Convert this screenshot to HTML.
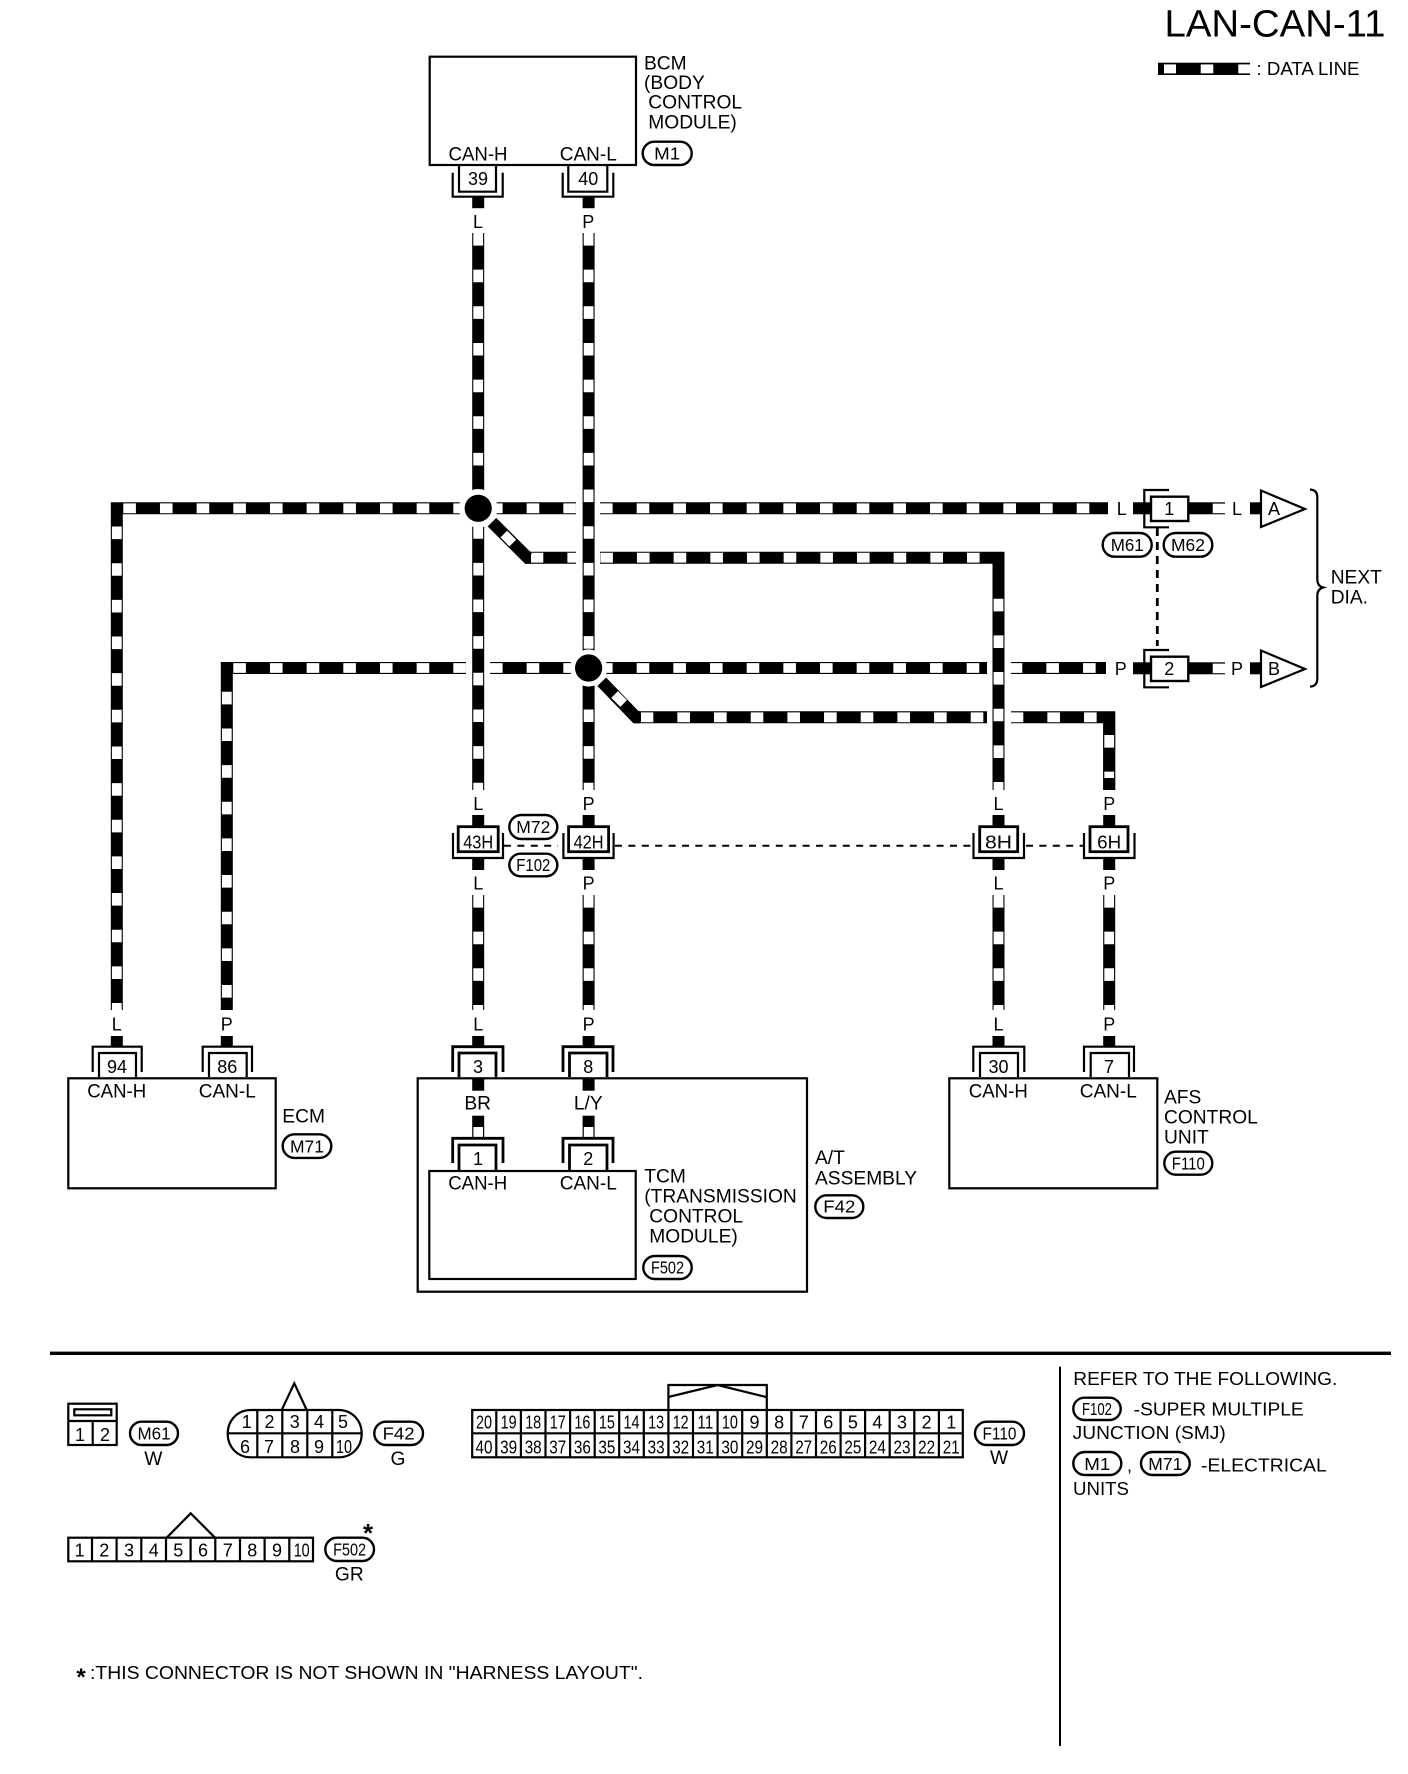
<!DOCTYPE html>
<html><head><meta charset="utf-8"><style>
html,body{margin:0;padding:0;background:#fff}
svg{display:block}
text{font-family:"Liberation Sans",sans-serif;font-size:19.2px;fill:#000}
.m{text-anchor:middle}
.n{font-size:18px;text-anchor:middle}
.s{fill:none;stroke:#000;stroke-width:2.2}
.t{fill:none;stroke:#000;stroke-width:2.8}
.b{fill:none;stroke:#000;stroke-width:12}
.d{fill:none;stroke:#fff;stroke-width:9.8;stroke-dasharray:12.6 24.05}
.e{fill:none;stroke:#fff;stroke-width:9.8;stroke-dasharray:12.6 24.07}
.p{fill:#fff;stroke:#000;stroke-width:2.4}
.q{font-size:17.5px;text-anchor:middle}
.k{fill:#000}
.g{fill:#fff}
.ds{fill:none;stroke:#000;stroke-width:2;stroke-dasharray:7 6.4}
</style></head><body>
<svg xmlns="http://www.w3.org/2000/svg" width="1408" height="1774" viewBox="0 0 1408 1774">
<rect width="1408" height="1774" fill="#fff"/>

<!-- title / legend -->
<text x="1164.5" y="36.7" style="font-size:37.7px" textLength="221" lengthAdjust="spacingAndGlyphs">LAN-CAN-11</text>
<rect x="1158" y="62.7" width="92" height="12.3" class="k"/>
<rect x="1164" y="64.4" width="12" height="9" class="g"/>
<rect x="1200.7" y="64.4" width="12.6" height="9" class="g"/>
<rect x="1238.3" y="64.4" width="13" height="9" class="g"/>
<text x="1256.5" y="75" style="font-size:18.5px" textLength="103" lengthAdjust="spacingAndGlyphs">: DATA LINE</text>

<!-- horizontal wires -->
<path class="b" d="M116.8 1010V508.3H1108"/>
<path class="e" d="M123.3 508.3H1106"/>
<path class="b" d="M226.8 1010V668H1106"/>
<path class="e" d="M233.3 668H987"/>
<path class="e" d="M1009.7 668H1106"/>
<path class="b" d="M492 522.3L527.7 557.7H998.5V790"/>
<path class="e" d="M530.7 557.7H576"/>
<path class="e" d="M600.3 557.7H987"/>
<path class="b" d="M601.8 681.8L636 717.3H1109.2V790"/>
<path class="e" d="M640.7 717.3H987"/>
<path class="e" d="M1010.7 717.3H1100"/>
<!-- crossing gaps -->
<rect x="576" y="500" width="24" height="16" class="g"/>
<rect x="576" y="549" width="24" height="17" class="g"/>
<rect x="466" y="660" width="24" height="16" class="g"/>
<rect x="987" y="660" width="24" height="16" class="g"/>
<rect x="987" y="709" width="24" height="17" class="g"/>

<!-- vertical wires -->
<path class="b" d="M478.2 233V790"/><path class="d" d="M478.2 233V790"/>
<path class="b" d="M588.6 233V790"/><path class="d" d="M588.6 233V790"/>
<path class="b" d="M998.5 552V790"/><path class="d" d="M998.5 598.75V790"/>
<path class="b" d="M1109.2 712V790"/><path class="d" d="M1109.2 735V778"/>
<path class="d" d="M116.8 526.55V1010"/>
<path class="d" d="M226.8 691.8V998"/>
<path class="b" d="M478.2 895V1010"/><path class="d" d="M478.2 895V1010"/>
<path class="b" d="M588.6 895V1010"/><path class="d" d="M588.6 895V1010"/>
<path class="b" d="M998.5 895V1010"/><path class="d" d="M998.5 895V1010"/>
<path class="b" d="M1109.2 895V1010"/><path class="d" d="M1109.2 895V1010"/>

<!-- junctions -->
<circle cx="478.2" cy="508.3" r="19.3" class="g"/><circle cx="478.2" cy="508.3" r="13.6" class="k"/>
<circle cx="588.6" cy="668" r="18.6" class="g"/><circle cx="588.6" cy="668" r="13.6" class="k"/>
<path class="b" d="M492 522.3L527.7 557.7H531"/>
<path d="M503.8 534.1L512.8 543.1" fill="none" stroke="#fff" stroke-width="9.4"/>
<path class="b" d="M601.8 681.8L636 717.3H641"/>
<path d="M614.6 694.5L623.6 703.5" fill="none" stroke="#fff" stroke-width="9.4"/>

<!-- BCM -->
<rect x="429.7" y="56.7" width="206.3" height="108.3" class="s"/>
<text x="644" y="69.3">BCM</text>
<text x="644" y="89">(BODY</text>
<text x="648.3" y="108.3">CONTROL</text>
<text x="648.3" y="128.3">MODULE)</text>
<rect x="642.7" y="141.7" width="49" height="23.3" rx="11.6" class="p"/>
<text x="667.2" y="159.5" class="q" textLength="26" lengthAdjust="spacingAndGlyphs">M1</text>
<text x="478" y="160.7" class="m" textLength="59" lengthAdjust="spacingAndGlyphs">CAN-H</text>
<text x="588.3" y="160.7" class="m" textLength="57" lengthAdjust="spacingAndGlyphs">CAN-L</text>
<path class="s" d="M459 166V191.7H496V166"/>
<path class="s" d="M452.7 172.7V196.7H502.7V172.7"/>
<path class="s" d="M568.3 166V191.7H607.3V166"/>
<path class="s" d="M562.7 172.7V196.7H613.3V172.7"/>
<text x="478" y="185" class="n">39</text>
<text x="588.3" y="185" class="n">40</text>
<rect x="472.2" y="196.7" width="12" height="11.5" class="k"/>
<rect x="582.6" y="196.7" width="12" height="11.5" class="k"/>
<text x="478" y="228" class="n">L</text>
<text x="588.3" y="228" class="n">P</text>

<!-- Mid connectors -->
<rect x="472.2" y="815" width="12" height="12" class="k"/><rect x="472.2" y="858" width="12" height="12" class="k"/>
<rect x="582.6" y="815" width="12" height="12" class="k"/><rect x="582.6" y="858" width="12" height="12" class="k"/>
<rect x="992.5" y="815" width="12" height="12" class="k"/><rect x="992.5" y="858" width="12" height="12" class="k"/>
<rect x="1103.2" y="815" width="12" height="12" class="k"/><rect x="1103.2" y="858" width="12" height="12" class="k"/>
<rect x="458.2" y="826.7" width="40" height="25" fill="#fff" stroke="#000" stroke-width="2.8"/>
<path class="s" d="M453 833V858H503V833"/>
<rect x="568.6" y="826.7" width="40" height="25" fill="#fff" stroke="#000" stroke-width="2.8"/>
<path class="s" d="M563.4 833V858H613.6V833"/>
<rect x="979.7" y="826.7" width="38" height="25" fill="#fff" stroke="#000" stroke-width="2.8"/>
<path class="s" d="M973.5 833V858H1024V833"/>
<rect x="1090" y="826.7" width="38" height="25" fill="#fff" stroke="#000" stroke-width="2.8"/>
<path class="s" d="M1084 833V858H1134.5V833"/>
<text x="478.2" y="848.3" class="n" textLength="30" lengthAdjust="spacingAndGlyphs">43H</text>
<text x="588.6" y="848.3" class="n" textLength="30" lengthAdjust="spacingAndGlyphs">42H</text>
<text x="998.5" y="848.3" class="n" textLength="27" lengthAdjust="spacingAndGlyphs">8H</text>
<text x="1109.2" y="848.3" class="n" textLength="24" lengthAdjust="spacingAndGlyphs">6H</text>
<path class="ds" d="M504 845.7H558"/>
<path class="ds" d="M615 845.7H973"/>
<path class="ds" d="M1026 845.7H1083"/>
<rect x="509.3" y="815" width="48" height="24" rx="12" class="p"/>
<text x="533.3" y="833" class="q" textLength="34" lengthAdjust="spacingAndGlyphs">M72</text>
<rect x="509.3" y="853.7" width="48" height="22.6" rx="11.3" class="p"/>
<text x="533.3" y="871" class="q" textLength="34" lengthAdjust="spacingAndGlyphs">F102</text>
<text x="478.2" y="810" class="n">L</text><text x="478.2" y="889.3" class="n">L</text>
<text x="588.6" y="810" class="n">P</text><text x="588.6" y="889.3" class="n">P</text>
<text x="998.5" y="810" class="n">L</text><text x="998.5" y="889.3" class="n">L</text>
<text x="1109.2" y="810" class="n">P</text><text x="1109.2" y="889.3" class="n">P</text>

<!-- bottom wire labels -->
<text x="116.8" y="1030.7" class="n">L</text><text x="226.8" y="1030.7" class="n">P</text>
<text x="478.2" y="1030.7" class="n">L</text><text x="588.6" y="1030.7" class="n">P</text>
<text x="998.5" y="1030.7" class="n">L</text><text x="1109.2" y="1030.7" class="n">P</text>
<rect x="110.8" y="1036" width="12" height="11" class="k"/><rect x="220.8" y="1036" width="12" height="11" class="k"/>
<rect x="472.2" y="1036" width="12" height="11" class="k"/><rect x="582.6" y="1036" width="12" height="11" class="k"/>
<rect x="992.5" y="1036" width="12" height="11" class="k"/><rect x="1103.2" y="1036" width="12" height="11" class="k"/>

<!-- ECM -->
<rect x="68.3" y="1078.3" width="207.4" height="110" class="s"/>
<path class="s" d="M92.7 1072V1046.7H141.7V1072"/>
<path class="s" d="M99 1077V1053H136V1077"/>
<path class="s" d="M202.7 1072V1046.7H252V1072"/>
<path class="s" d="M209 1077V1053H246.7V1077"/>
<text x="117" y="1073" class="n">94</text>
<text x="227.3" y="1073" class="n">86</text>
<text x="116.7" y="1097.3" class="m" textLength="59" lengthAdjust="spacingAndGlyphs">CAN-H</text>
<text x="227.3" y="1097.3" class="m" textLength="57" lengthAdjust="spacingAndGlyphs">CAN-L</text>
<text x="282.3" y="1122.3">ECM</text>
<rect x="282.7" y="1134.3" width="48.6" height="23.6" rx="11.8" class="p"/>
<text x="307" y="1152.5" class="q" textLength="34" lengthAdjust="spacingAndGlyphs">M71</text>

<!-- A/T assembly -->
<rect x="417.7" y="1078.3" width="389.3" height="213.4" class="s"/>
<path class="t" d="M452.7 1072V1046.7H503V1072"/>
<path class="t" d="M459 1077V1053H496V1077"/>
<path class="t" d="M563 1072V1046.7H613V1072"/>
<path class="t" d="M569.5 1077V1053H607V1077"/>
<text x="478" y="1073" class="n">3</text>
<text x="588.3" y="1073" class="n">8</text>
<rect x="472.2" y="1078" width="12" height="12.7" class="k"/><rect x="582.6" y="1078" width="12" height="12.7" class="k"/>
<text x="477.7" y="1109.3" class="m">BR</text>
<text x="588.3" y="1109.3" class="m">L/Y</text>
<rect x="472.2" y="1115.7" width="12" height="22.6" class="k"/><rect x="582.6" y="1115.7" width="12" height="22.6" class="k"/>
<rect x="473.4" y="1127" width="9.6" height="11" class="g"/><rect x="583.8" y="1127" width="9.6" height="11" class="g"/>
<path class="t" d="M452.7 1163V1138.3H503V1163"/>
<path class="t" d="M459 1170V1145H496V1170"/>
<path class="t" d="M563 1163V1138.3H613V1163"/>
<path class="t" d="M569.5 1170V1145H607V1170"/>
<text x="478" y="1165" class="n">1</text>
<text x="588.3" y="1165" class="n">2</text>
<rect x="429.3" y="1171" width="206.4" height="108" class="s"/>
<text x="477.7" y="1189.3" class="m" textLength="59" lengthAdjust="spacingAndGlyphs">CAN-H</text>
<text x="588.3" y="1189.3" class="m" textLength="57" lengthAdjust="spacingAndGlyphs">CAN-L</text>
<text x="644.3" y="1182.7">TCM</text>
<text x="644.3" y="1202.7">(TRANSMISSION</text>
<text x="649.3" y="1222.3">CONTROL</text>
<text x="649.3" y="1242.3">MODULE)</text>
<rect x="643.3" y="1256" width="48.4" height="23" rx="11.5" class="p"/>
<text x="667.5" y="1273.5" class="q" textLength="33" lengthAdjust="spacingAndGlyphs">F502</text>
<text x="815" y="1164">A/T</text>
<text x="815" y="1184.3">ASSEMBLY</text>
<rect x="815.3" y="1195.3" width="48" height="22.7" rx="11.3" class="p"/>
<text x="839.3" y="1212.7" class="q" textLength="32" lengthAdjust="spacingAndGlyphs">F42</text>

<!-- AFS -->
<rect x="949.3" y="1078.3" width="208" height="110" class="s"/>
<path class="s" d="M973.3 1072V1046.7H1024.3V1072"/>
<path class="s" d="M980 1077V1053H1018V1077"/>
<path class="s" d="M1084 1072V1046.7H1134V1072"/>
<path class="s" d="M1090.7 1077V1053H1129V1077"/>
<text x="998.5" y="1073" class="n">30</text>
<text x="1109" y="1073" class="n">7</text>
<text x="998.3" y="1097.3" class="m" textLength="59" lengthAdjust="spacingAndGlyphs">CAN-H</text>
<text x="1108.3" y="1097.3" class="m" textLength="57" lengthAdjust="spacingAndGlyphs">CAN-L</text>
<text x="1164" y="1103.3">AFS</text>
<text x="1164" y="1123.3">CONTROL</text>
<text x="1164" y="1143.3">UNIT</text>
<rect x="1164.3" y="1151.7" width="48" height="23" rx="11.5" class="p"/>
<text x="1188.3" y="1169.3" class="q" textLength="33" lengthAdjust="spacingAndGlyphs">F110</text>

<!-- right side connectors -->
<text x="1121.7" y="515" class="n">L</text>
<text x="1237" y="515" class="n">L</text>
<text x="1120.7" y="675" class="n">P</text>
<text x="1237" y="675" class="n">P</text>
<path class="ds" style="stroke-width:2.8;stroke-dasharray:8 6" d="M1157.3 528V646"/>
<g>
<rect x="1133" y="502.3" width="18" height="12" class="k"/>
<rect x="1188" y="502.3" width="37" height="12" class="k"/>
<rect x="1212.7" y="503.6" width="13" height="9.6" class="g"/>
<rect x="1250" y="502.3" width="12" height="12" class="k"/>
<rect x="1151" y="496.7" width="37.3" height="24.3" fill="#fff" stroke="#000" stroke-width="2.4"/>
<path class="s" d="M1169 490H1144.3V527.3H1169"/>
<path d="M1261 490.5V527L1305 509Z" fill="#fff" stroke="#000" stroke-width="2.2"/>
</g>
<g transform="translate(0,160)">
<rect x="1133" y="502.3" width="18" height="12" class="k"/>
<rect x="1188" y="502.3" width="37" height="12" class="k"/>
<rect x="1212.7" y="503.6" width="13" height="9.6" class="g"/>
<rect x="1250" y="502.3" width="12" height="12" class="k"/>
<rect x="1151" y="496.7" width="37.3" height="24.3" fill="#fff" stroke="#000" stroke-width="2.4"/>
<path class="s" d="M1169 490H1144.3V527.3H1169"/>
<path d="M1261 490.5V527L1305 509Z" fill="#fff" stroke="#000" stroke-width="2.2"/>
</g>
<text x="1169.3" y="515" class="n">1</text>
<text x="1169.3" y="675" class="n">2</text>
<text x="1274" y="515" class="n">A</text>
<text x="1274" y="675" class="n">B</text>
<rect x="1102.7" y="533" width="49" height="23.7" rx="11.8" class="p"/>
<text x="1127.2" y="551" class="q" textLength="33" lengthAdjust="spacingAndGlyphs">M61</text>
<rect x="1163.7" y="533" width="48.6" height="23.7" rx="11.8" class="p"/>
<text x="1188" y="551" class="q" textLength="34" lengthAdjust="spacingAndGlyphs">M62</text>
<path class="s" d="M1310 489.5Q1317.3 490 1317.3 497V579Q1317.3 586 1323 587.5Q1317.3 589 1317.3 596V679Q1317.3 686 1310 686.7"/>
<text x="1330.7" y="583.3">NEXT</text>
<text x="1330.7" y="603.3">DIA.</text>

<!-- lower separators -->
<rect x="50" y="1351.6" width="1341" height="3.4" class="k"/>
<rect x="1059" y="1366.7" width="2" height="379.3" class="k"/>

<!-- M61 connector -->
<rect x="68.3" y="1403.7" width="48.4" height="41.3" class="s"/>
<rect x="74.3" y="1409.3" width="37" height="6" class="s"/>
<path class="s" d="M68.3 1421H116.7M92.7 1421V1445"/>
<text x="80" y="1441" class="n">1</text>
<text x="105" y="1441" class="n">2</text>
<rect x="130" y="1421.7" width="48" height="23.3" rx="11.6" class="p"/>
<text x="154" y="1439.5" class="q" textLength="33" lengthAdjust="spacingAndGlyphs">M61</text>
<text x="153.3" y="1465" class="m">W</text>

<!-- F42 connector -->
<path class="s" d="M251 1410H338.5C352 1410 361.7 1420.5 361.7 1433.6C361.7 1447 352 1457.3 338.5 1457.3H251C237.4 1457.3 227.7 1447 227.7 1433.6C227.7 1420.5 237.4 1410 251 1410Z"/>
<path class="s" d="M227.7 1433.3H361.7M257.3 1410V1457.3M282.3 1410V1457.3M307.3 1410V1457.3M332.3 1410V1457.3"/>
<path class="s" d="M281.7 1410L294.3 1383.3L306.7 1410"/>
<text x="246.7" y="1428" class="n">1</text><text x="269.5" y="1428" class="n">2</text><text x="294.7" y="1428" class="n">3</text><text x="319" y="1428" class="n">4</text><text x="343" y="1428" class="n">5</text>
<text x="245" y="1453" class="n">6</text><text x="269" y="1453" class="n">7</text><text x="295" y="1453" class="n">8</text><text x="319" y="1453" class="n">9</text><text x="344" y="1453" class="n" textLength="16" lengthAdjust="spacingAndGlyphs">10</text>
<rect x="374.3" y="1421.7" width="48.7" height="23.3" rx="11.6" class="p"/>
<text x="398.6" y="1439.5" class="q" textLength="32" lengthAdjust="spacingAndGlyphs">F42</text>
<text x="398" y="1465" class="m">G</text>

<!-- F110 connector -->
<rect x="472.2" y="1410" width="490.6" height="47.3" class="s"/>
<path class="s" d="M472.2 1433.3H962.8"/>
<path class="s" d="M496.3 1410V1457.3M520.9 1410V1457.3M545.5 1410V1457.3M570.1 1410V1457.3M594.7 1410V1457.3M619.2 1410V1457.3M643.8 1410V1457.3M668.4 1410V1457.3M693 1410V1457.3M717.6 1410V1457.3M742.2 1410V1457.3M766.8 1410V1457.3M791.4 1410V1457.3M816 1410V1457.3M840.6 1410V1457.3M865.1 1410V1457.3M889.7 1410V1457.3M914.3 1410V1457.3M938.9 1410V1457.3"/>
<path class="s" d="M668.4 1410V1385H766.8V1410"/>
<path class="s" d="M668.4 1397L717.6 1385L766 1397"/>
<g>
<text x="484" y="1428.3" class="n" textLength="16" lengthAdjust="spacingAndGlyphs">20</text>
<text x="508.6" y="1428.3" class="n" textLength="16" lengthAdjust="spacingAndGlyphs">19</text>
<text x="533.2" y="1428.3" class="n" textLength="16" lengthAdjust="spacingAndGlyphs">18</text>
<text x="557.8" y="1428.3" class="n" textLength="16" lengthAdjust="spacingAndGlyphs">17</text>
<text x="582.4" y="1428.3" class="n" textLength="16" lengthAdjust="spacingAndGlyphs">16</text>
<text x="606.9" y="1428.3" class="n" textLength="16" lengthAdjust="spacingAndGlyphs">15</text>
<text x="631.5" y="1428.3" class="n" textLength="16" lengthAdjust="spacingAndGlyphs">14</text>
<text x="656.1" y="1428.3" class="n" textLength="16" lengthAdjust="spacingAndGlyphs">13</text>
<text x="680.7" y="1428.3" class="n" textLength="16" lengthAdjust="spacingAndGlyphs">12</text>
<text x="705.3" y="1428.3" class="n" textLength="16" lengthAdjust="spacingAndGlyphs">11</text>
<text x="729.9" y="1428.3" class="n" textLength="16" lengthAdjust="spacingAndGlyphs">10</text>
<text x="754.5" y="1428.3" class="n">9</text>
<text x="779.1" y="1428.3" class="n">8</text>
<text x="803.7" y="1428.3" class="n">7</text>
<text x="828.3" y="1428.3" class="n">6</text>
<text x="852.9" y="1428.3" class="n">5</text>
<text x="877.4" y="1428.3" class="n">4</text>
<text x="902" y="1428.3" class="n">3</text>
<text x="926.6" y="1428.3" class="n">2</text>
<text x="951.2" y="1428.3" class="n">1</text>
<text x="484" y="1453.3" class="n" textLength="17" lengthAdjust="spacingAndGlyphs">40</text>
<text x="508.6" y="1453.3" class="n" textLength="17" lengthAdjust="spacingAndGlyphs">39</text>
<text x="533.2" y="1453.3" class="n" textLength="17" lengthAdjust="spacingAndGlyphs">38</text>
<text x="557.8" y="1453.3" class="n" textLength="17" lengthAdjust="spacingAndGlyphs">37</text>
<text x="582.4" y="1453.3" class="n" textLength="17" lengthAdjust="spacingAndGlyphs">36</text>
<text x="606.9" y="1453.3" class="n" textLength="17" lengthAdjust="spacingAndGlyphs">35</text>
<text x="631.5" y="1453.3" class="n" textLength="17" lengthAdjust="spacingAndGlyphs">34</text>
<text x="656.1" y="1453.3" class="n" textLength="17" lengthAdjust="spacingAndGlyphs">33</text>
<text x="680.7" y="1453.3" class="n" textLength="17" lengthAdjust="spacingAndGlyphs">32</text>
<text x="705.3" y="1453.3" class="n" textLength="17" lengthAdjust="spacingAndGlyphs">31</text>
<text x="729.9" y="1453.3" class="n" textLength="17" lengthAdjust="spacingAndGlyphs">30</text>
<text x="754.5" y="1453.3" class="n" textLength="17" lengthAdjust="spacingAndGlyphs">29</text>
<text x="779.1" y="1453.3" class="n" textLength="17" lengthAdjust="spacingAndGlyphs">28</text>
<text x="803.7" y="1453.3" class="n" textLength="17" lengthAdjust="spacingAndGlyphs">27</text>
<text x="828.3" y="1453.3" class="n" textLength="17" lengthAdjust="spacingAndGlyphs">26</text>
<text x="852.9" y="1453.3" class="n" textLength="17" lengthAdjust="spacingAndGlyphs">25</text>
<text x="877.4" y="1453.3" class="n" textLength="17" lengthAdjust="spacingAndGlyphs">24</text>
<text x="902" y="1453.3" class="n" textLength="17" lengthAdjust="spacingAndGlyphs">23</text>
<text x="926.6" y="1453.3" class="n" textLength="17" lengthAdjust="spacingAndGlyphs">22</text>
<text x="951.2" y="1453.3" class="n" textLength="17" lengthAdjust="spacingAndGlyphs">21</text>
</g>
<rect x="975" y="1421.7" width="49" height="23.3" rx="11.6" class="p"/>
<text x="999.5" y="1439.5" class="q" textLength="34" lengthAdjust="spacingAndGlyphs">F110</text>
<text x="999" y="1464" class="m">W</text>

<!-- F502 connector -->
<rect x="68.3" y="1537.7" width="244.7" height="23.6" class="s"/>
<path class="s" d="M92 1537.7V1561.3M116.6 1537.7V1561.3M141.3 1537.7V1561.3M166 1537.7V1561.3M190.6 1537.7V1561.3M215.3 1537.7V1561.3M240 1537.7V1561.3M264.6 1537.7V1561.3M289.3 1537.7V1561.3"/>
<path class="s" d="M166.7 1537.7L190.7 1513.3L215 1537.7"/>
<text x="79.6" y="1556.7" class="n">1</text><text x="104.3" y="1556.7" class="n">2</text><text x="129" y="1556.7" class="n">3</text><text x="153.7" y="1556.7" class="n">4</text><text x="178.3" y="1556.7" class="n">5</text><text x="203" y="1556.7" class="n">6</text><text x="227.7" y="1556.7" class="n">7</text><text x="252.3" y="1556.7" class="n">8</text><text x="277" y="1556.7" class="n">9</text><text x="301.7" y="1556.7" class="n" textLength="16" lengthAdjust="spacingAndGlyphs">10</text>
<rect x="325.3" y="1537.7" width="48.7" height="23.3" rx="11.6" class="p"/>
<text x="349.6" y="1555.5" class="q" textLength="33" lengthAdjust="spacingAndGlyphs">F502</text>
<text x="368" y="1542" class="m" style="font-size:26px;font-weight:bold">*</text>
<text x="349.3" y="1580.7" class="m">GR</text>

<!-- footnote -->
<text x="81" y="1685" class="m" style="font-size:24px;font-weight:bold">*</text>
<text x="90" y="1679" style="font-size:18px" textLength="553" lengthAdjust="spacingAndGlyphs">:THIS CONNECTOR IS NOT SHOWN IN "HARNESS LAYOUT".</text>

<!-- notes -->
<text x="1073.3" y="1385" style="font-size:18px" textLength="264" lengthAdjust="spacingAndGlyphs">REFER TO THE FOLLOWING.</text>
<rect x="1073.3" y="1397.7" width="47.4" height="22.3" rx="11.1" class="p"/>
<text x="1097" y="1414.8" class="q" textLength="30" lengthAdjust="spacingAndGlyphs">F102</text>
<text x="1133.7" y="1415.5" style="font-size:18px" textLength="170" lengthAdjust="spacingAndGlyphs">-SUPER MULTIPLE</text>
<text x="1072.7" y="1439" style="font-size:18px" textLength="153" lengthAdjust="spacingAndGlyphs">JUNCTION (SMJ)</text>
<rect x="1073.3" y="1452" width="48" height="23" rx="11.5" class="p"/>
<text x="1097.3" y="1469.8" class="q" textLength="26" lengthAdjust="spacingAndGlyphs">M1</text>
<text x="1127" y="1471.7" style="font-size:18px">,</text>
<rect x="1141" y="1452" width="48.7" height="23" rx="11.5" class="p"/>
<text x="1165.3" y="1469.8" class="q" textLength="34" lengthAdjust="spacingAndGlyphs">M71</text>
<text x="1201" y="1471.7" style="font-size:18px" textLength="125.7" lengthAdjust="spacingAndGlyphs">-ELECTRICAL</text>
<text x="1073" y="1495" style="font-size:18px" textLength="56" lengthAdjust="spacingAndGlyphs">UNITS</text>
</svg>
</body></html>
